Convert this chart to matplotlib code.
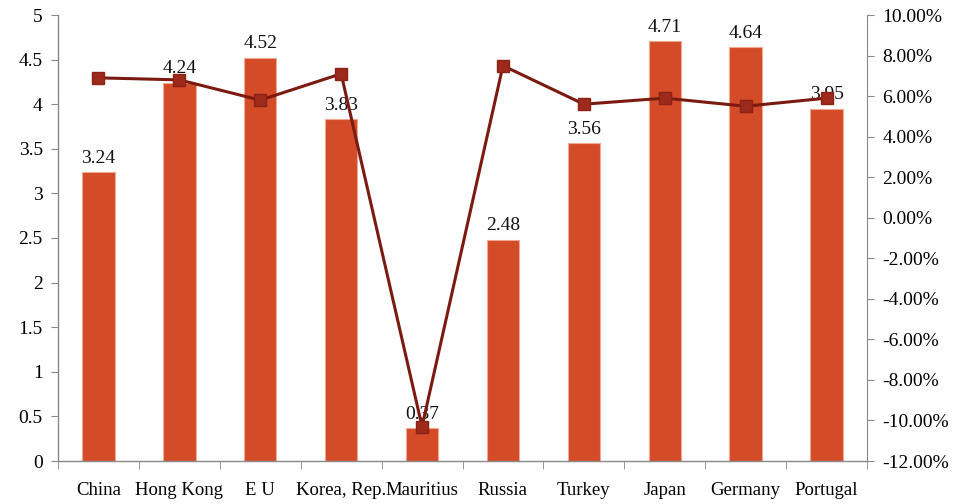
import matplotlib
matplotlib.use("Agg")
import matplotlib.pyplot as plt
from matplotlib.ticker import FuncFormatter, FixedLocator
import numpy as np

categories = ["China", "Hong Kong", "E U", "Korea, Rep.", "Mauritius",
              "Russia", "Turkey", "Japan", "Germany", "Portugal"]
bar_values = [3.24, 4.24, 4.52, 3.83, 0.37, 2.48, 3.56, 4.71, 4.64, 3.95]
bar_labels = ["3.24", "4.24", "4.52", "3.83", "0.37", "2.48", "3.56", "4.71", "4.64", "3.95"]
line_values = [6.9, 6.8, 5.8, 7.1, -10.3, 7.5, 5.6, 5.9, 5.5, 5.9]  # percent

FONT = "Liberation Serif"
plt.rcParams["font.family"] = [FONT, "DejaVu Serif"]

fig = plt.figure(figsize=(9.59, 5.04), dpi=100)
ax = fig.add_axes([58/959, 1 - 461/504, (867-58)/959, (461-15)/504])
x = np.arange(len(categories))

ax.bar(x, bar_values, width=0.4, color="#D34B27", edgecolor="#F0A890", linewidth=0.8, zorder=2)
for xi, v, lab in zip(x, bar_values, bar_labels):
    ax.text(xi, v + 0.06, lab, ha="center", va="bottom", fontsize=14, color="#111111")

ax.set_xlim(-0.5, len(categories) - 0.5)
ax.set_ylim(0, 5)
ax.set_yticks(np.arange(0, 5.01, 0.5))
ax.yaxis.set_major_formatter(FuncFormatter(lambda v, p: f"{v:g}"))
ax.set_xticks(x)
ax.set_xticklabels(categories, fontsize=13.5)
ax.xaxis.set_minor_locator(FixedLocator(np.arange(-0.5, len(categories), 1.0)))
ax.tick_params(axis="x", which="major", length=0, pad=15)
ax.tick_params(axis="x", which="minor", length=6, color="#888888", direction="out")
ax.tick_params(axis="y", length=5, color="#888888", labelsize=14, pad=6)
for s in ["top", "right"]:
    ax.spines[s].set_visible(False)
for s in ["left", "bottom"]:
    ax.spines[s].set_color("#888888")
    ax.spines[s].set_linewidth(1.0)

ax2 = ax.twinx()
ax2.plot(x, line_values, color="#7A1A10", linewidth=2.2, marker="s", markersize=8,
         markerfacecolor="#9E2A1C", markeredgecolor="#8A2216", zorder=3)
ax2.set_ylim(-12, 10)
ax2.set_yticks(np.arange(-12, 10.01, 2))
ax2.yaxis.set_major_formatter(FuncFormatter(lambda v, p: f"{v:.2f}%"))
ax2.tick_params(axis="y", length=5, color="#888888", labelsize=14, pad=6)
for s in ["top", "left", "bottom"]:
    ax2.spines[s].set_visible(False)
ax2.spines["right"].set_color("#888888")

fig.savefig("out.png", dpi=100, facecolor="white")
